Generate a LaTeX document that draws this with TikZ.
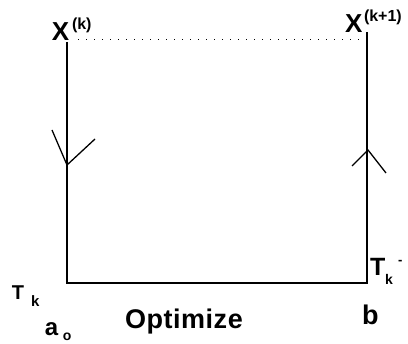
\documentclass[tikz,border=0pt]{standalone}
\usepackage{fontspec}
\setmainfont{Liberation Sans}
\begin{document}
\begin{tikzpicture}[x=1pt,y=-1pt,
  lab/.style={inner sep=0pt, outer sep=0pt, anchor=base west},
  frame/.style={line width=2pt, line join=miter},
  arm/.style={line width=1.3pt},
  dots/.style={line width=1pt, dash pattern=on 1pt off 7pt}]
\useasboundingbox (0,0) rectangle (408,344);
% corners
\coordinate (TL) at (67,42);
\coordinate (BL) at (67,283);
\coordinate (BR) at (367,283);
\coordinate (TR) at (367,32);
\coordinate (DL) at (78,40);
\coordinate (DR) at (360,40);
\draw[frame] (TL) -- (BL) -- (BR) -- (TR);
\draw[dots] (DL) -- (DR);
% down arrow on left line
\coordinate (LA) at (67,165);
\coordinate (LA1) at (52,130);
\coordinate (LA2) at (95,139);
\draw[arm] (LA1) -- (LA) -- (LA2);
% up arrow on right line
\coordinate (RA) at (368,150);
\coordinate (RA1) at (352,166);
\coordinate (RA2) at (386,173);
\draw[arm] (RA1) -- (RA) -- (RA2);
% labels
\node[lab, font=\bfseries\fontsize{26}{26}\selectfont] (x1) at (52,41) {X};
\node[lab, font=\bfseries\fontsize{16}{16}\selectfont] (x1s) at (72,30) {(k)};
\node[lab, font=\bfseries\fontsize{26}{26}\selectfont] (x2) at (345,33) {X};
\node[lab, font=\bfseries\fontsize{16}{16}\selectfont] (x2s) at (364,22) {(k+1)};
\node[lab, font=\bfseries\fontsize{20}{20}\selectfont] (t1) at (12,300) {T};
\node[lab, font=\bfseries\fontsize{15}{15}\selectfont] (t1s) at (31,307) {k};
\node[lab, font=\bfseries\fontsize{24}{24}\selectfont] (a) at (45,336) {a};
\node[lab, font=\bfseries\fontsize{14}{14}\selectfont] (as) at (63,341) {o};
\node[lab, font=\bfseries\fontsize{27}{27}\selectfont\addfontfeature{LetterSpace=2}] (opt) at (125,329) {Optimize};
\node[lab, font=\bfseries\fontsize{27}{27}\selectfont] (b) at (362,325) {b};
\node[lab, font=\bfseries\fontsize{25}{25}\selectfont] (t2) at (370,276) {T};
\node[lab, font=\bfseries\fontsize{14}{14}\selectfont] (t2s) at (385,285) {k};
\node[lab, font=\bfseries\fontsize{13}{13}\selectfont] (t2p) at (398,265) {-};
\end{tikzpicture}
\end{document}
